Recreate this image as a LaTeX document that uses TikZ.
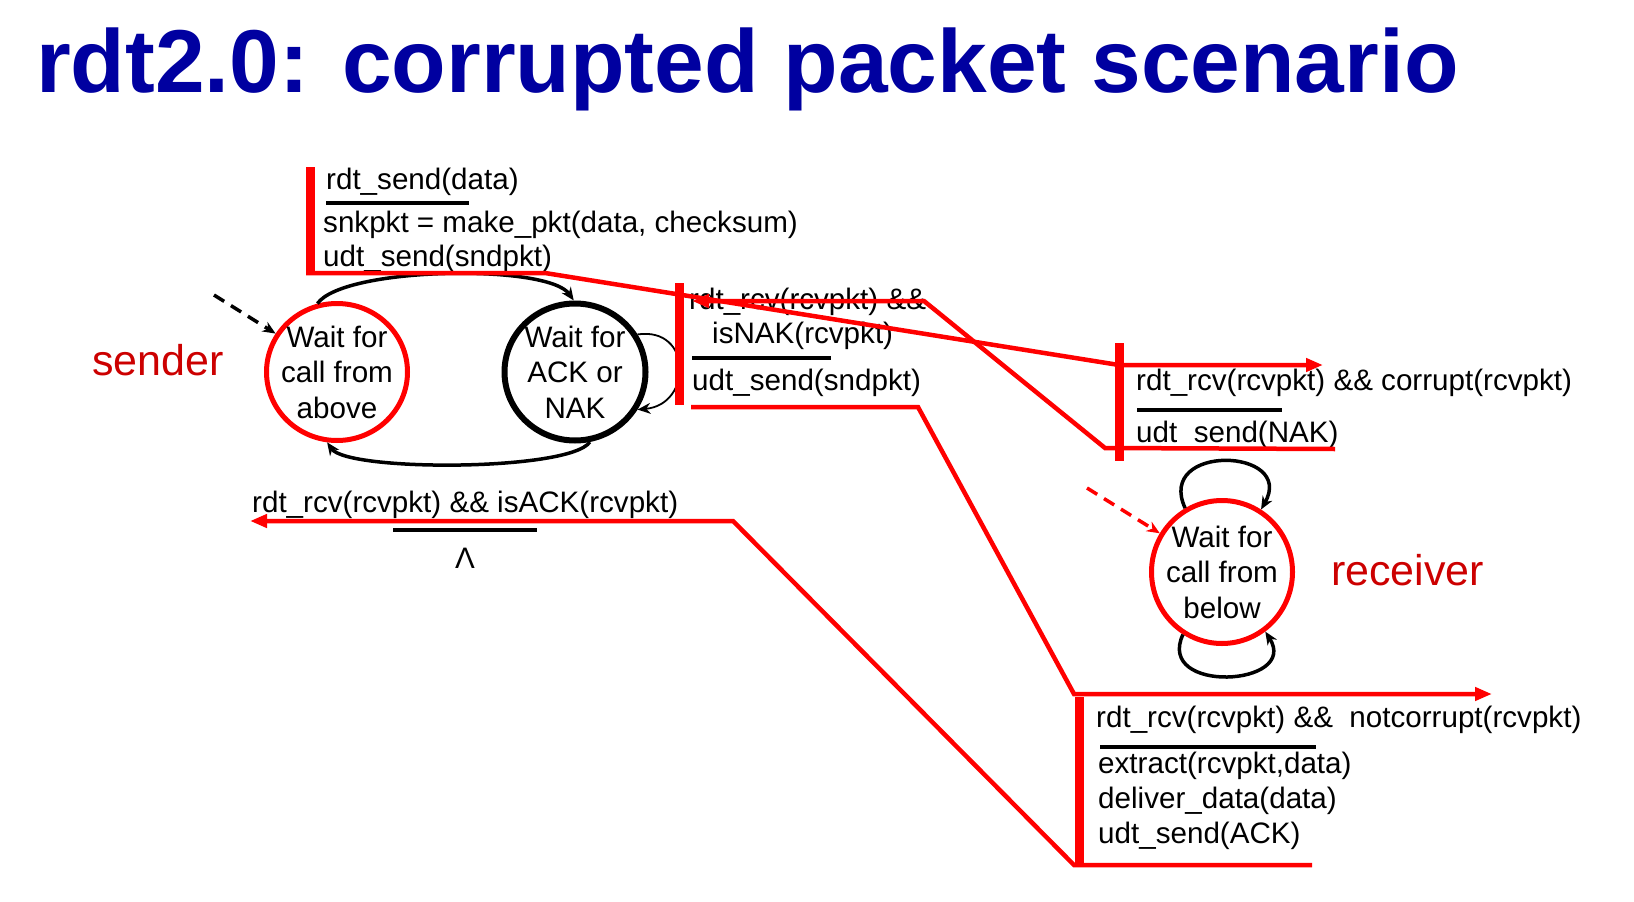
\documentclass[tikz,border=0pt]{standalone}
\usepackage{fontspec}
\setmainfont{Liberation Sans}
\usetikzlibrary{arrows.meta,shapes.geometric}
\definecolor{titleBlue}{HTML}{0000A0}
\definecolor{roleRed}{HTML}{CC0000}
\definecolor{fsmRed}{HTML}{FF0000}
\newcommand{\fsmfont}{\fontsize{29.6}{35.5}\selectfont}

\begin{document}
\begin{tikzpicture}[x=1pt,y=-1pt,
  state/.style={ellipse,draw,line width=5pt,minimum width=141pt,minimum height=137pt,
    inner sep=-15pt,align=center,font=\fsmfont},
  lbl/.style={anchor=base west,inner sep=0pt,font=\fsmfont},
  role/.style={anchor=base west,inner sep=0pt,font=\fontsize{43}{50}\selectfont,text=roleRed},
  tbar/.style={draw=fsmRed,line width=9pt},
  rline/.style={draw=fsmRed,line width=4.5pt},
  rarrow/.style={rline,-{Triangle[length=17pt,width=13pt]}},
  sepline/.style={draw=black,line width=3.5pt},
  selfloop/.style={draw=black,line width=3.5pt,-{Stealth[length=13pt,width=11pt]}},
  initarrow/.style={line width=3.5pt,dash pattern=on 12pt off 8pt,-{Stealth[length=13pt,width=11pt]}}]
  \useasboundingbox (0,0) rectangle (1634,902);

  \node[anchor=base west,inner sep=0pt,text=titleBlue,
    font=\fontsize{89.3}{100}\selectfont\bfseries] (title) at (36,92)
    {rdt2.0: corrupted packet scenario};

  % sender
  \node[role] (sndrole) at (92,375) {sender};
  \node[state,draw=fsmRed] (above) at (337,372) {Wait for\\call from\\above};
  \node[state,draw=black,line width=6pt] (ack) at (575,372) {Wait for\\ACK or\\NAK};
  \coordinate (sinit) at (214,295);
  \draw[initarrow,black] (sinit) -- (above);
  \draw[selfloop] (above.106) to[out=55,in=125,looseness=0.45] (ack.91);
  \draw[selfloop] (ack.282) to[out=-125,in=-55,looseness=0.35] (above.262);
  \draw[selfloop,line width=1.8pt] (ack.31) .. controls +(55,-8) and +(55,-5) .. (ack.-31);

  % receiver
  \node[role] (rcvrole) at (1331,585) {receiver};
  \node[state,draw=fsmRed,minimum height=143pt] (below) at (1222,572) {Wait for\\call from\\below};
  \coordinate (rinit) at (1087,488);
  \draw[initarrow,fsmRed] (rinit) -- (below);
  \draw[selfloop] (below.120) .. controls +(-30,-65) and +(35,-62) .. (below.58);
  \draw[selfloop] (below.238) .. controls +(-28,60) and +(35,55) .. (below.306);

  % transition texts
  \node[lbl] (sdEvt) at (326,189) {rdt\_send(data)};
  \draw[sepline] (326,203) -- (469,203);
  \node[lbl] (sdAct1) at (323,232) {snkpkt = make\_pkt(data, checksum)};
  \node[lbl] (sdAct2) at (323,266) {udt\_send(sndpkt)};

  \node[lbl] (nakEvt1) at (689,309) {rdt\_rcv(rcvpkt) \&\&};
  \node[lbl] (nakEvt2) at (712,343) {isNAK(rcvpkt)};
  \draw[sepline] (692,358) -- (831,358);
  \node[lbl] (nakAct) at (692,390) {udt\_send(sndpkt)};

  \node[lbl] (ackEvt) at (252,512) {rdt\_rcv(rcvpkt) \&\& isACK(rcvpkt)};
  \draw[sepline] (393,530) -- (537,530);
  \node[anchor=base,inner sep=0pt,font=\fsmfont] (ackAct) at (465,568) {Λ};

  \node[lbl] (crEvt) at (1136,390) {rdt\_rcv(rcvpkt) \&\& corrupt(rcvpkt)};
  \draw[sepline] (1137,410) -- (1282,410);
  \node[lbl] (crAct) at (1136,442) {udt\_send(NAK)};

  \node[lbl] (okEvt) at (1096,727) {rdt\_rcv(rcvpkt) \&\&\ \ notcorrupt(rcvpkt)};
  \draw[sepline] (1100,747) -- (1316,747);
  \node[lbl] (okAct1) at (1098,773) {extract(rcvpkt,data)};
  \node[lbl] (okAct2) at (1098,808) {deliver\_data(data)};
  \node[lbl] (okAct3) at (1098,843) {udt\_send(ACK)};

  % red transition bars and paths
  \coordinate (sdBarTop) at (310,167);
  \coordinate (sdBarBot) at (310,274);
  \coordinate (sdKnee) at (545,273);
  \coordinate (crIn) at (1119,365);
  \coordinate (crTip) at (1323,365);
  \draw[tbar] (sdBarTop) -- (sdBarBot);
  \draw[rarrow] (306,273) -- (sdKnee) -- (crIn) -- (crTip);

  \coordinate (crBarTop) at (1119,343);
  \coordinate (crBarBot) at (1119,461);
  \coordinate (crOutEnd) at (1335,449);
  \coordinate (crOutKnee) at (1105,448);
  \coordinate (nakKnee) at (924,301);
  \coordinate (nakTip) at (692,301);
  \draw[tbar] (crBarTop) -- (crBarBot);
  \draw[rarrow] (crOutEnd) -- (crOutKnee) -- (nakKnee) -- (nakTip);

  \coordinate (nakBarTop) at (679,283);
  \coordinate (nakBarBot) at (679,405);
  \coordinate (nakOutStart) at (691,407);
  \coordinate (nakOutKnee) at (918,407);
  \coordinate (okIn) at (1074,694);
  \coordinate (okTip) at (1492,694);
  \draw[tbar] (nakBarTop) -- (nakBarBot);
  \draw[rarrow] (nakOutStart) -- (nakOutKnee) -- (okIn) -- (okTip);

  \coordinate (okBarTop) at (1079,697);
  \coordinate (okBarBot) at (1079,865);
  \coordinate (okOutEnd) at (1312,865);
  \coordinate (okOutKnee) at (1074,865);
  \coordinate (ackKnee) at (733,521);
  \coordinate (ackTip) at (250,521);
  \draw[tbar] (okBarTop) -- (okBarBot);
  \draw[rarrow] (okOutEnd) -- (okOutKnee) -- (ackKnee) -- (ackTip);
\end{tikzpicture}
\end{document}
